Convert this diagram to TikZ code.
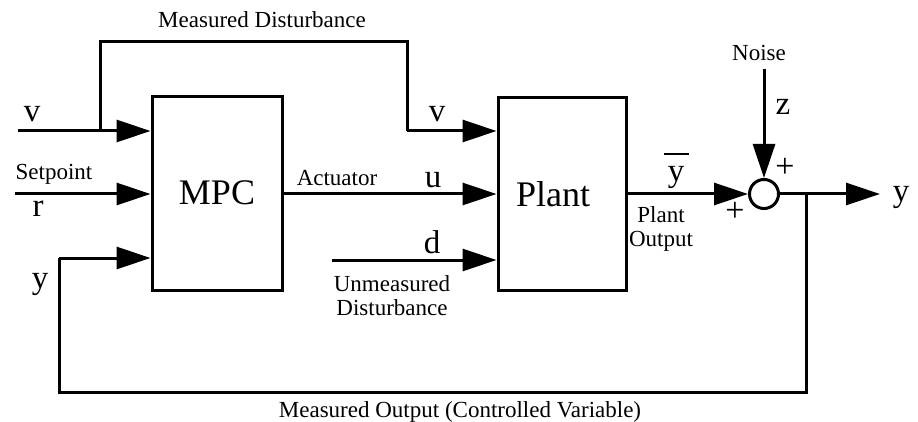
\documentclass[tikz,border=0pt]{standalone}
\usepackage{fontspec}
\setmainfont{Liberation Serif}
\usetikzlibrary{arrows.meta}
\begin{document}
\begin{tikzpicture}[x=1pt,y=-1pt,
  line width=3pt,
  arr/.style={-{Triangle[length=34pt,width=22pt]}},
  blk/.style={draw,rectangle,line width=3pt,inner sep=0pt},
  lbl/.style={inner sep=0pt,font=\fontsize{23}{24}\selectfont,align=center},
  sym/.style={inner sep=0pt,font=\fontsize{33}{35}\selectfont},
  big/.style={inner sep=0pt,font=\fontsize{36}{40}\selectfont},
  pls/.style={inner sep=0pt,font=\fontsize{34}{36}\selectfont}]
\useasboundingbox (0,0) rectangle (918,422);
% blocks
\node[blk,minimum width=130pt,minimum height=193pt] (mpc) at (217,193.5) {};
\node[big] (mpctxt) at (217,193) {MPC};
\node[blk,minimum width=128pt,minimum height=192pt] (plant) at (562,194) {};
\node[big] (planttxt) at (553,194) {Plant};
\node[draw,circle,line width=3pt,minimum size=29pt,inner sep=0pt] (sum) at (764,194) {};
% coordinates
\coordinate (vin) at (18,131);
\coordinate (split) at (100,131);
\coordinate (mdA) at (100,42);
\coordinate (mdB) at (407,42);
\coordinate (mdC) at (407,131);
\coordinate (rin) at (15,194);
\coordinate (din) at (332,260);
\coordinate (noise) at (764,69);
\coordinate (yout) at (880,194);
\coordinate (tap) at (806,194);
\coordinate (fbA) at (806,392);
\coordinate (fbB) at (59,392);
\coordinate (fbC) at (59,258);
\coordinate (ybL) at (664,154);
\coordinate (ybR) at (689,154);
% connectors
\draw[arr] (vin) -- (mpc.west |- vin);
\draw (split) -- (mdA) -- (mdB) -- (mdC);
\draw[arr] (mdC) -- (plant.west |- mdC);
\draw[arr] (rin) -- (mpc.west |- rin);
\draw[arr] (mpc.east |- 0,194) -- (plant.west |- 0,194);
\draw[arr] (din) -- (plant.west |- din);
\draw[arr] (plant.east |- sum.west) -- (sum.west);
\draw[arr] (noise) -- (sum.north);
\draw[arr] (sum.east) -- (yout);
\draw (tap) -- (fbA) -- (fbB) -- (fbC);
\draw[arr] (fbC) -- (mpc.west |- fbC);
% labels
\node[lbl] (tmd) at (262,20) {Measured Disturbance};
\node[sym] (tv1) at (32,114) {v};
\node[lbl] (tsp) at (54,174) {Setpoint};
\node[sym] (tr) at (38,209) {r};
\node[sym] (ty1) at (40,284) {y};
\node[lbl] (tact) at (337,178) {Actuator};
\node[sym] (tu) at (433,180) {u};
\node[sym] (tv2) at (437,114) {v};
\node[sym] (td) at (432,242) {d};
\node[lbl] (tud) at (392,296) {Unmeasured\\Disturbance};
\node[sym] (tyb) at (676,177) {y};
\draw[line width=1.8pt] (ybL) -- (ybR);
\node[lbl] (tpo) at (661,229) {Plant\\Output};
\node[lbl] (tn) at (759,53) {Noise};
\node[sym] (tz) at (783,107) {z};
\node[pls] (tp1) at (785,168) {+};
\node[pls] (tp2) at (735,212) {+};
\node[sym] (ty2) at (901,197) {y};
\node[lbl] (tmo) at (460,412) {Measured Output (Controlled Variable)};
\end{tikzpicture}
\end{document}
